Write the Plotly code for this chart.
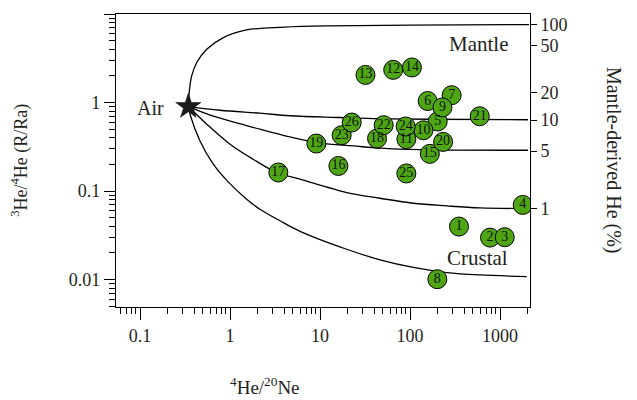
import plotly.graph_objects as go

# ---- data ----
sample_ids = [str(i) for i in range(1, 27)]
he_ne = [350, 774, 1128, 1786, 203, 157, 290, 201, 229, 141, 91, 65, 32, 105,
         166, 16, 3.44, 43, 9.1, 233, 595, 51, 17.4, 89.5, 91, 22.5]
r_ra = [0.0397, 0.0298, 0.0301, 0.0697, 0.61, 1.04, 1.21, 0.0101, 0.88, 0.486,
        0.385, 2.34, 2.05, 2.49, 0.263, 0.192, 0.162, 0.392, 0.344, 0.359,
        0.70, 0.555, 0.427, 0.536, 0.158, 0.594]

air_x = [0.344]
air_y = [0.90]

# mixing curves
mantle_x = [0.344, 0.350, 0.375, 0.427, 0.551, 0.843, 1.53, 4.0, 12.9, 100, 2100]
mantle_y = [0.90, 1.24, 2.0, 2.83, 4.0, 5.42, 6.61, 7.1, 7.34, 7.5, 7.6]

c10_x = [0.344, 0.774, 2.15, 4.64, 16.7, 46.4, 167, 2047]
c10_y = [0.90, 0.818, 0.757, 0.709, 0.677, 0.656, 0.647, 0.639]

c5_x = [0.344, 0.681, 1.35, 2.15, 4.64, 10, 23.4, 46.4, 129, 2047]
c5_y = [0.90, 0.691, 0.569, 0.499, 0.408, 0.347, 0.323, 0.305, 0.293, 0.289]

c1_x = [0.344, 0.551, 1.0, 1.80, 3.30, 6.0, 19.8, 46.4, 109, 256, 600, 1945]
c1_y = [0.90, 0.569, 0.338, 0.229, 0.162, 0.136, 0.0962, 0.0829, 0.0728,
        0.0679, 0.0644, 0.0634]

crust_x = [0.344, 0.359, 0.464, 0.652, 0.919, 1.53, 2.15, 3.59, 6.0, 19.8,
           46.4, 109, 256, 600, 1982]
crust_y = [0.90, 0.738, 0.368, 0.201, 0.132, 0.0808, 0.0623, 0.0462, 0.0351,
           0.022, 0.0167, 0.0137, 0.0120, 0.01127, 0.0108]

# right axis: mantle-derived He (%) tick positions in R/Ra
mantle_pct_vals = [7.52, 4.39, 1.29, 0.634, 0.283, 0.0637]
mantle_pct_text = ["100", "50", "20", "10", "5", "1"]

x_ticks = [0.1, 1, 10, 100, 1000]
x_ticktext = ["0.1", "1", "10", "100", "1000"]
y_ticks = [0.01, 0.1, 1, 10]
y_ticktext = ["0.01", "0.1", "1", "10"]

FONT = "Liberation Serif"
TXT = "#231f20"
GREEN = "#4ea614"

fig = go.Figure()

for cx, cy in [(mantle_x, mantle_y), (c10_x, c10_y), (c5_x, c5_y),
               (c1_x, c1_y), (crust_x, crust_y)]:
    fig.add_trace(go.Scatter(x=cx, y=cy, mode="lines",
                             line=dict(color="black", width=1.3, shape="spline", smoothing=1.0),
                             hoverinfo="skip", showlegend=False))

fig.add_trace(go.Scatter(x=he_ne, y=r_ra, mode="markers+text", text=sample_ids,
                         textposition="middle center",
                         textfont=dict(family=FONT, size=14, color="#111"),
                         marker=dict(size=19, color=GREEN, line=dict(color="black", width=1)),
                         showlegend=False))

fig.add_trace(go.Scatter(x=air_x, y=air_y, mode="markers",
                         marker=dict(symbol="star", size=19, color="#1a1a1a",
                                     line=dict(color="black", width=0.5)),
                         showlegend=False))

# invisible trace on the right axis
fig.add_trace(go.Scatter(x=air_x, y=air_y, yaxis="y2", mode="markers",
                         marker=dict(opacity=0), hoverinfo="skip", showlegend=False))

tickfont = dict(family=FONT, size=18, color=TXT)

fig.update_layout(
    width=629, height=392,
    margin=dict(l=108, r=107, t=6, b=93, autoexpand=False),
    paper_bgcolor="white", plot_bgcolor="white",
    font=dict(family=FONT, color=TXT),
    xaxis=dict(type="log", range=[-1.267, 3.333], tickmode="array",
               tickvals=x_ticks, ticktext=x_ticktext, automargin=False,
               ticks="outside", ticklen=12, tickwidth=1.2, tickcolor="black",
               minor=dict(ticks="outside", ticklen=6, tickwidth=1, tickcolor="black",
                          dtick="D1", showgrid=False),
               showline=True, linecolor="black", linewidth=1.3, mirror=True,
               showgrid=False, zeroline=False, tickfont=tickfont),
    yaxis=dict(type="log", range=[-2.31, 1.0], tickmode="array",
               tickvals=y_ticks, ticktext=y_ticktext, automargin=False,
               ticks="outside", ticklen=11, tickwidth=1.2, tickcolor="black",
               minor=dict(ticks="outside", ticklen=6, tickwidth=1, tickcolor="black",
                          dtick="D1", showgrid=False),
               showline=True, linecolor="black", linewidth=1.3, mirror=True,
               showgrid=False, zeroline=False, tickfont=tickfont),
    yaxis2=dict(type="log", range=[-2.31, 1.0], overlaying="y", side="right",
                tickmode="array", tickvals=mantle_pct_vals, ticktext=mantle_pct_text,
                automargin=False,
                ticks="outside", ticklen=6, tickwidth=1.2, tickcolor="black",
                showline=False, showgrid=False, zeroline=False, tickfont=tickfont),
    annotations=[
        dict(x=-0.889, y=-0.062, xref="x", yref="y", text="Air", showarrow=False,
             xanchor="center", yanchor="middle",
             font=dict(family=FONT, size=20, color=TXT)),
        dict(x=2.756, y=0.661, xref="x", yref="y", text="Mantle", showarrow=False,
             xanchor="center", yanchor="middle",
             font=dict(family=FONT, size=21, color=TXT)),
        dict(x=2.75, y=-1.757, xref="x", yref="y", text="Crustal", showarrow=False,
             xanchor="center", yanchor="middle",
             font=dict(family=FONT, size=21, color=TXT)),
        dict(x=0.360, y=-0.270, xref="paper", yref="paper",
             xanchor="center", yanchor="middle",
             text="<sup>4</sup>He/<sup>20</sup>Ne", showarrow=False,
             font=dict(family=FONT, size=19, color=TXT)),
        dict(x=-0.232, y=0.502, xref="paper", yref="paper", textangle=-90,
             xanchor="center", yanchor="middle",
             text="<sup>3</sup>He/<sup>4</sup>He (R/Ra)", showarrow=False,
             font=dict(family=FONT, size=18, color=TXT)),
        dict(x=1.2005, y=0.502, xref="paper", yref="paper", textangle=90,
             xanchor="center", yanchor="middle",
             text="Mantle-derived He (%)", showarrow=False,
             font=dict(family=FONT, size=20, color=TXT)),
    ],
)

fig.write_html("out.html")
